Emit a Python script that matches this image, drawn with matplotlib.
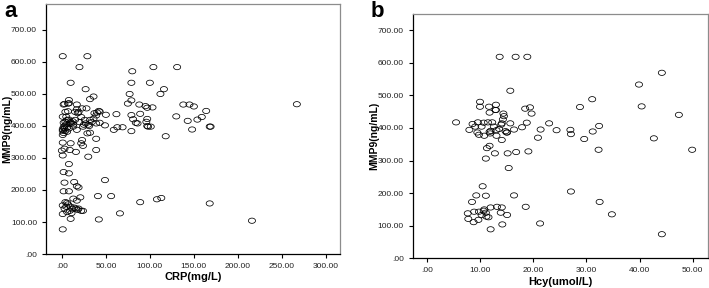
import numpy as np
import matplotlib.pyplot as plt
from matplotlib.path import Path
from matplotlib.ticker import FuncFormatter

plt.rcParams['font.family'] = ['Liberation Sans', 'DejaVu Sans']

# panel a: CRP vs MMP9
crp = [1, 29, 20, 104, 131, 80, 10, 79, 100, 27, 116, 112, 77, 79, 32, 36, 8, 2, 7, 17,
       75, 88, 95, 97, 103, 138, 145, 150, 164, 267, 130, 143, 154, 159, 148, 168, 169, 118,
       84, 89, 79, 81, 86, 79, 97, 96, 97, 98, 101, 59, 63, 69, 62, 50, 49, 40, 42, 43, 39,
       37, 39, 43, 31, 32, 29, 39, 39, 30, 16, 23, 22, 24, 10, 1, 3, 0, 9, 1,
       3, 8, 17, 19, 15, 7, 4, 1, 5, 6, 2, 3, 1, 4, 2, 6, 5, 1, 11, 10, 13, 15, 20, 26, 27,
       30, 32, 34, 36, 24, 22, 13, 8, 12, 18, 3, 6, 9, 1, 2, 8, 4, 17, 25, 28, 23,
       8, 2, 8, 3, 14, 17, 19, 2, 8, 49, 41, 56, 13, 21, 17, 4, 1, 5, 7, 10, 14, 16, 19, 22,
       9, 6, 1, 11, 10, 3, 6, 12, 18, 24, 42, 66, 89, 108, 113, 168, 216, 1]
mmp9_a = [618, 618, 584, 584, 584, 571, 535, 535, 535, 515, 515, 500, 500, 480, 484, 492, 481,
          467, 470, 467, 470, 467, 462, 457, 458, 467, 467, 461, 447, 468, 430, 416, 420, 428,
          389, 398, 398, 368, 410, 438, 434, 421, 408, 384, 422, 413, 400, 398, 398, 388, 396,
          396, 437, 435, 402, 442, 447, 445, 433, 440, 408, 410, 400, 379, 377, 360, 325, 304,
          319, 356, 346, 338, 346, 348, 329, 323, 325, 308,
          469, 471, 452, 444, 444, 446, 444, 429, 429, 419, 410, 400, 390, 385, 378, 395, 405,
          372, 408, 412, 405, 419, 412, 419, 408, 404, 419, 412, 423, 398, 428, 398, 392, 415,
          440, 392, 382, 408, 385, 396, 420, 413, 388, 404, 455, 455,
          281, 256, 252, 223, 225, 212, 208, 196, 196, 231, 181, 181, 173, 177, 167, 162, 152,
          148, 155, 148, 145, 142, 142, 135, 135, 131, 125, 128, 110, 142, 160, 140, 138, 135,
          108, 127, 162, 171, 175, 158, 104, 77]

# panel b: Hcy vs MMP9
hcy = [13.7, 16.7, 18.9, 15.7, 10.0, 10.0, 11.7, 13.0, 13.0, 11.8, 14.4, 14.5, 18.5, 19.4,
       19.7, 28.8, 31.1, 39.9, 44.2, 40.4, 47.4, 5.5, 8.0, 8.6, 9.1, 9.6, 10.3, 10.7, 9.5, 9.8,
       10.8, 11.5, 11.8, 12.0, 12.3, 12.6, 13.1, 13.1, 13.6, 14.1, 14.3, 14.8, 15.0, 15.7,
       16.4, 17.9, 18.8, 14.1, 20.9, 21.4, 23.0, 24.4, 27.0, 27.1, 29.6, 31.2, 32.4, 32.3,
       42.7, 49.9, 11.8, 11.3, 12.8, 11.1, 15.2, 16.8, 19.1, 15.4, 10.5, 9.3, 11.1, 16.4, 8.5,
       27.1, 32.5, 34.8, 18.6, 21.3, 7.7, 7.8, 8.9, 9.8, 8.8, 9.7, 10.3, 10.7, 10.8, 11.1,
       11.2, 11.6, 12.0, 12.0, 13.2, 14.1, 13.9, 15.1, 14.2, 44.2, 12.9, 14.0, 15.1, 11.9]
mmp9_b = [618, 618, 618, 514, 480, 465, 465, 471, 455, 447, 444, 436, 459, 463, 444, 464, 488,
          533, 569, 466, 440, 417, 394, 412, 404, 417, 404, 416, 386, 379, 376, 417, 388, 391,
          417, 404, 376, 393, 397, 414, 426, 390, 386, 414, 395, 402, 416, 363, 370, 395, 414,
          393, 394, 381, 366, 389, 406, 333, 368, 333, 345, 338, 322, 306, 322, 326, 328, 277,
          221, 193, 192, 193, 173, 205, 173, 135, 158, 107, 138, 121, 143, 143, 111, 118, 133,
          146, 150, 140, 128, 126, 156, 89, 158, 156, 140, 133, 104, 74, 455, 410, 386, 383]

# slightly flattened open circle, like the source image
t = np.linspace(0, 2 * np.pi, 41)
oval = Path(np.column_stack([1.35 * np.cos(t), np.sin(t)]), closed=True)


def fmt(v, pos):
    return '.00' if v == 0 else '%.2f' % v


def style(ax):
    ax.spines['left'].set_color('black')
    ax.spines['bottom'].set_color('black')
    ax.spines['top'].set_color('#8c8c8c')
    ax.spines['right'].set_color('#8c8c8c')
    for s in ax.spines.values():
        s.set_linewidth(0.9)
    ax.tick_params(direction='out', length=3, width=0.8, labelsize=6, colors='black',
                   labelcolor='#222222')
    ax.xaxis.set_major_formatter(FuncFormatter(fmt))
    ax.yaxis.set_major_formatter(FuncFormatter(fmt))
    ax.set_yticks(np.arange(0, 701, 100))


fig = plt.figure(figsize=(7.09, 2.88), dpi=100)

ax1 = fig.add_axes([0.0649, 0.118, 0.4146, 0.868])
ax1.scatter(crp, mmp9_a, s=26, marker=oval, facecolors='none', edgecolors='black',
            linewidths=0.55)
ax1.set_xlim(-18, 316)
ax1.set_ylim(0, 781)
ax1.set_xticks(np.arange(0, 301, 50))
style(ax1)
ax1.set_xlabel('CRP(mg/L)', fontsize=8, fontweight='bold', va='center')
ax1.set_ylabel('MMP9(ng/mL)', fontsize=7.5, fontweight='bold', va='center')
ax1.xaxis.set_label_coords(0.5, -0.092)
ax1.yaxis.set_label_coords(-0.133, 0.5)

ax2 = fig.add_axes([0.5825, 0.103, 0.4155, 0.848])
ax2.scatter(hcy, mmp9_b, s=26, marker=oval, facecolors='none', edgecolors='black',
            linewidths=0.55)
ax2.set_xlim(-2.6, 52.8)
ax2.set_ylim(0, 749)
ax2.set_xticks(np.arange(0, 51, 10))
style(ax2)
ax2.set_xlabel('Hcy(umol/L)', fontsize=8, fontweight='bold', va='center')
ax2.set_ylabel('MMP9(ng/mL)', fontsize=7.5, fontweight='bold', va='center')
ax2.xaxis.set_label_coords(0.5, -0.097)
ax2.yaxis.set_label_coords(-0.133, 0.5)

fig.text(0.006, 0.995, 'a', fontsize=16, fontweight='bold', va='top', ha='left')
fig.text(0.522, 0.995, 'b', fontsize=16, fontweight='bold', va='top', ha='left')

fig.savefig('out.png', dpi=100)
